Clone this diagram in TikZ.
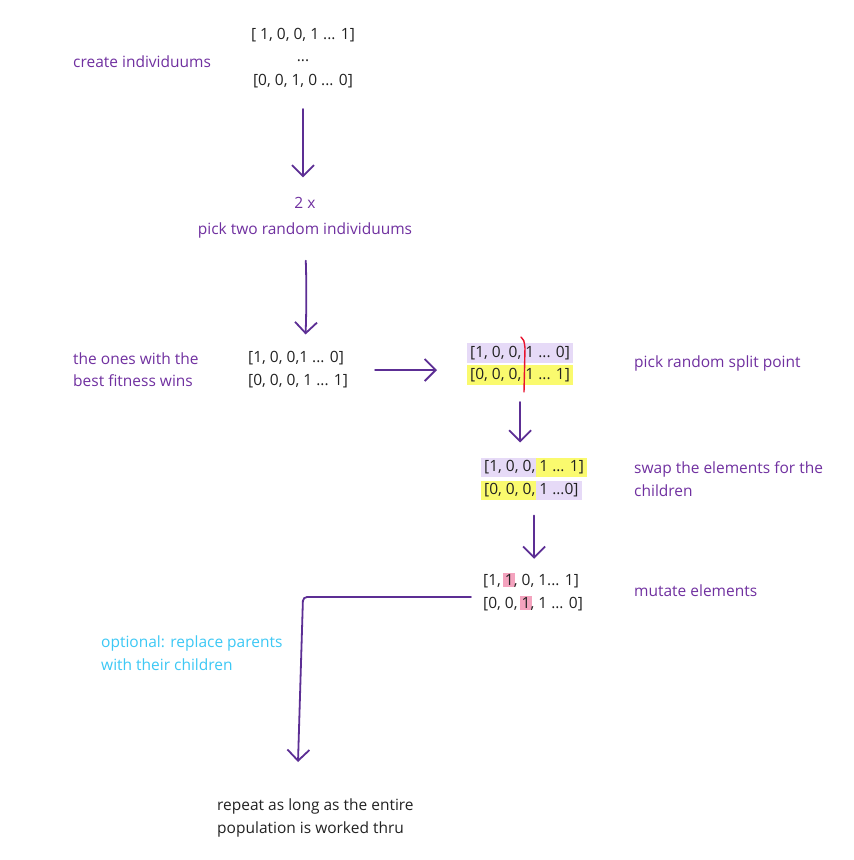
\documentclass[tikz,border=0pt]{standalone}
\usepackage{fontspec}
\setmainfont{Open Sans}
\usetikzlibrary{arrows.meta}
\definecolor{ptext}{HTML}{7030A0}
\definecolor{parrow}{HTML}{5C2E94}
\definecolor{ctext}{HTML}{3CC8F5}
\definecolor{btext}{HTML}{222222}
\definecolor{hlpurple}{HTML}{E6DAF7}
\definecolor{hlyellow}{HTML}{FAFA6E}
\definecolor{hlpink}{HTML}{F4A3BE}
\definecolor{splitred}{HTML}{E8112D}
\newcommand{\hlbox}[2]{{\setlength{\fboxsep}{3pt}\kern-3pt\colorbox{#1}{#2}\kern-3pt}}
\newcommand{\hlpk}[1]{{\setlength{\fboxsep}{1.5pt}\kern-1.5pt\colorbox{hlpink}{#1}\kern-1.5pt}}
\begin{document}
\begin{tikzpicture}[x=1pt,y=-1pt,
  txt/.style={inner sep=0pt, font=\fontsize{15.5}{23}\selectfont},
  ptxt/.style={txt, text=ptext, align=left, anchor=west},
  btxt/.style={txt, text=btext, align=left, anchor=west},
  arr/.style={draw=parrow, line width=1.8pt, line cap=round,
    -{Straight Barb[length=11pt,width=22pt,line width=1.8pt]}}]
\useasboundingbox[fill=white] (0,0) rectangle (854,860);

% texts
\node[ptxt] (create) at (73,62) {create individuums};
\node[txt, text=btext, align=center] (init) at (303,58)
  {[ 1, 0, 0, 1 ... 1]\\[-1pt]...\\[1pt]{[}0, 0, 1, 0 ... 0]};
\node[txt, text=ptext, align=center, font=\fontsize{15.5}{26}\selectfont] (pick) at (305,218)
  {2 x\\pick two random individuums};
\node[ptxt, font=\fontsize{15.5}{22}\selectfont] (fit) at (73,370) {the ones with the\\best fitness wins};
\node[btxt] (pair) at (248,370) {[1, 0, 0,1 ... 0]\\{[}0, 0, 0, 1 ... 1]};
\node[btxt, font=\fontsize{15.5}{22}\selectfont] (split) at (470,364)
  {\hlbox{hlpurple}{[1, 0, 0, 1 ... 0]}\\\hlbox{hlyellow}{[0, 0, 0, 1 ... 1]}};
\node[ptxt] (splitlbl) at (634,363) {pick random split point};
\node[btxt] (swap) at (484,479)
  {\hlbox{hlpurple}{[1, 0, 0,} \hlbox{hlyellow}{1 ... 1]}\\\hlbox{hlyellow}{[0, 0, 0,} \hlbox{hlpurple}{1 ...0]}};
\node[ptxt] (swaplbl) at (634,479) {swap the elements for the\\children};
\node[btxt] (mutate) at (483,592)
  {[1, \hlpk{1}, 0, 1... 1]\\{[}0, 0, \hlpk{1}, 1 ... 0]};
\node[ptxt] (mutlbl) at (634,591) {mutate elements};
\node[txt, text=ctext, align=left, anchor=west] (opt) at (101,653) {optional: replace parents\\with their children};
\node[btxt] (repeat) at (217,818) {repeat as long as the entire\\population is worked thru};

% split line
\coordinate (rs1) at (521,337);
\coordinate (rs2) at (525,348);
\coordinate (rs3) at (524,392);
\draw[splitred, line width=1.4pt, line cap=round] (rs1) .. controls (524,340) .. (rs2) -- (rs3);

% arrows
\draw[arr, shorten <=21pt, shorten >=20pt] (init.south) -- (init.south |- pick.north);
\draw[arr, shorten <=22pt, shorten >=17pt] (pick.south) to[bend left=2] (pick.south |- pair.north);
\draw[arr, shorten <=27pt, shorten >=33pt] (pair.east) -- (pair.east -| split.west);
\draw[arr, shorten <=17pt, shorten >=15pt] (split.south) -- (split.south |- swap.north);
\draw[arr, shorten <=15pt, shorten >=14pt] (swap.south) -- (swap.south |- mutate.north);
\coordinate (corner) at (303,597);
\coordinate (loopend) at (298,762);
\draw[arr, rounded corners=4pt, shorten <=12pt] (mutate.west |- corner) -- (corner) -- (loopend);
\end{tikzpicture}
\end{document}
